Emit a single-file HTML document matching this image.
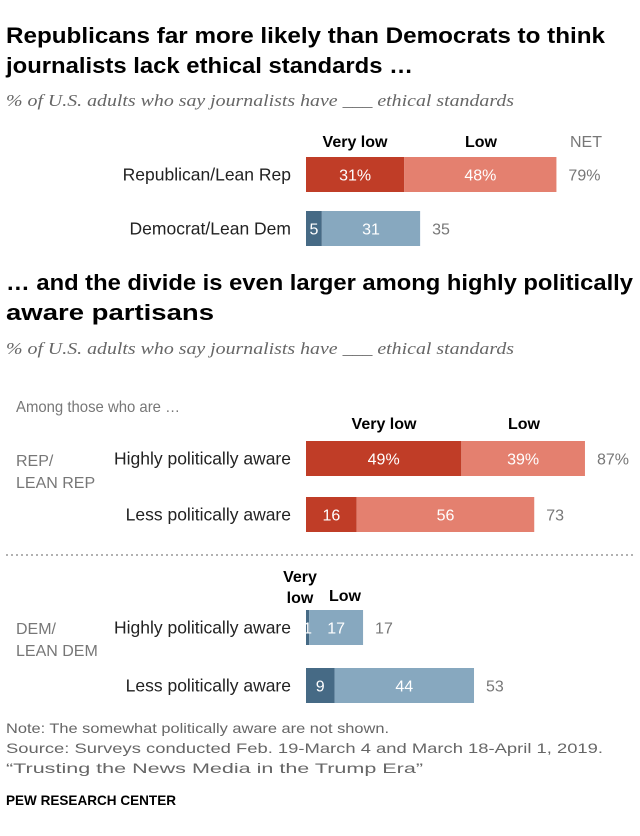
<!DOCTYPE html>
<html><head><meta charset="utf-8">
<style>
body{margin:0;background:#fff;width:640px;height:836px;overflow:hidden;font-family:"Liberation Sans",sans-serif;}
svg{display:block}
.title{font-size:22px;font-weight:bold;fill:#000;}
.sub{font-family:"Liberation Serif",serif;font-style:italic;font-size:17px;fill:#666;}
.lbl{font-size:17.5px;fill:#222;}
.hd{font-size:16px;font-weight:bold;fill:#000;}
.gray{font-size:16px;fill:#777;}
.in{font-size:16px;fill:#fff;}
.note{font-size:14px;fill:#666;}
</style></head><body>
<svg id="c" width="640" height="836">
<text class="title" x="6" y="43" textLength="599" lengthAdjust="spacingAndGlyphs">Republicans far more likely than Democrats to think</text>
<text class="title" x="6" y="73" textLength="407" lengthAdjust="spacingAndGlyphs">journalists lack ethical standards …</text>
<text class="sub" x="6" y="106" textLength="508" lengthAdjust="spacingAndGlyphs">% of U.S. adults who say journalists have ___ ethical standards</text>
<text class="hd" x="355" y="147" text-anchor="middle">Very low</text>
<text class="hd" x="481" y="147" text-anchor="middle">Low</text>
<text class="gray" x="570" y="147">NET</text>
<text class="title" x="6" y="290" textLength="627" lengthAdjust="spacingAndGlyphs">… and the divide is even larger among highly politically</text>
<text class="title" x="6" y="320" textLength="208" lengthAdjust="spacingAndGlyphs">aware partisans</text>
<text class="sub" x="6" y="354" textLength="508" lengthAdjust="spacingAndGlyphs">% of U.S. adults who say journalists have ___ ethical standards</text>
<text class="gray" x="16" y="412" textLength="164" lengthAdjust="spacingAndGlyphs">Among those who are …</text>
<text class="hd" x="384" y="429" text-anchor="middle">Very low</text>
<text class="hd" x="524" y="429" text-anchor="middle">Low</text>
<text class="gray" x="16" y="466">REP/</text>
<text class="gray" x="16" y="488">LEAN REP</text>
<line x1="6" y1="555" x2="634" y2="555" stroke="#999" stroke-dasharray="2,3" stroke-width="1.5"/>
<text class="hd" x="300" y="582" text-anchor="middle">Very</text>
<text class="hd" x="300" y="603" text-anchor="middle">low</text>
<text class="hd" x="345" y="601" text-anchor="middle">Low</text>
<text class="gray" x="16" y="634">DEM/</text>
<text class="gray" x="16" y="656">LEAN DEM</text>
<text class="note" x="6" y="733" textLength="383" lengthAdjust="spacingAndGlyphs">Note: The somewhat politically aware are not shown.</text>
<text class="note" x="6" y="753" textLength="597" lengthAdjust="spacingAndGlyphs">Source: Surveys conducted Feb. 19-March 4 and March 18-April 1, 2019.</text>
<text class="note" x="6" y="773" textLength="417" lengthAdjust="spacingAndGlyphs">“Trusting the News Media in the Trump Era”</text>
<text x="6" y="805" textLength="170" lengthAdjust="spacingAndGlyphs" style="font-size:14px;font-weight:bold;fill:#000">PEW RESEARCH CENTER</text>
</svg>
<script>
const categories=["Republican/Lean Rep","Democrat/Lean Dem","Highly politically aware","Less politically aware","Highly politically aware","Less politically aware"];
const veryLow=[31,5,49,16,1,9];
const low=[48,31,39,56,17,44];
const net=[79,35,87,73,17,53];
const pct=[true,false,true,false,false,false];
const party=["rep","dem","rep","rep","dem","dem"];
const rowY=[157,211,441,497,610,668];
const x0=306,k=3.17,h=35;
const xs=v=>v*k;
const svg=document.getElementById('c');
const NS='http://www.w3.org/2000/svg';
function mk(tag,attrs){const e=document.createElementNS(NS,tag);for(const a in attrs)e.setAttribute(a,attrs[a]);svg.appendChild(e);return e;}
categories.forEach((c,i)=>{
  const y=rowY[i],cy=y+h/2+6;
  const lab=mk('text',{x:291,y:cy,'text-anchor':'end',class:'lbl'});lab.textContent=c;
  
  
  const c1=party[i]=='rep'?'#c03d27':'#466a85';
  const c2=party[i]=='rep'?'#e4806f':'#87a8bf';
  const w1=xs(veryLow[i]),w2=xs(low[i]);
  const b1=mk('rect',{x:x0,y:y,width:w1,height:h,fill:c1});
  
  
  const b2=mk('rect',{x:x0+w1,y:y,width:w2,height:h,fill:c2});
  
  
  const s=pct[i]?'%':'';
  const t1=mk('text',{x:x0+w1/2,y:cy,'text-anchor':'middle',class:'in'});t1.textContent=veryLow[i]+s;
  
  
  const t2=mk('text',{x:x0+w1+w2/2,y:cy,'text-anchor':'middle',class:'in'});t2.textContent=low[i]+s;
  
  
  const t3=mk('text',{x:x0+w1+w2+12,y:cy,class:'gray'});t3.textContent=net[i]+s;
  
  
});
</script>
</body></html>
